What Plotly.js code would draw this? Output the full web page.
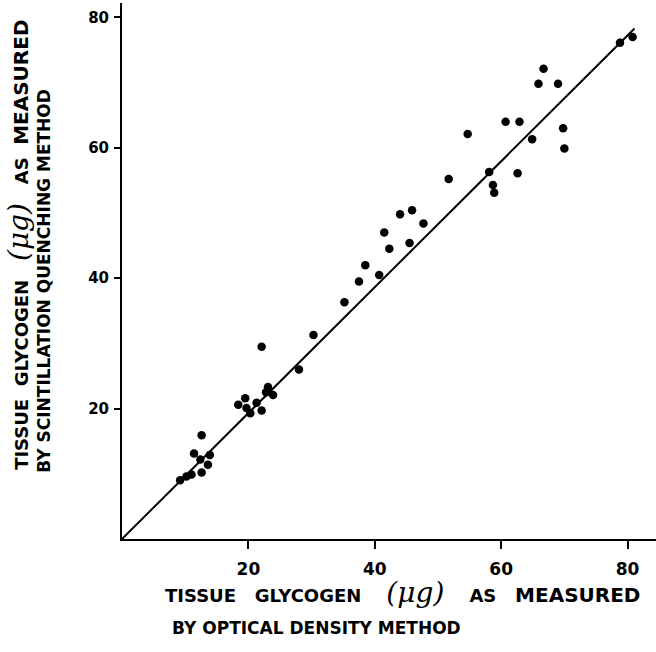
<!DOCTYPE html>
<html>
<head>
<meta charset="utf-8">
<script src="https://cdn.plot.ly/plotly-3.0.1.min.js"></script>
<style>html,body{margin:0;padding:0;background:#fff;}#chart{width:656px;height:652px;}</style>
</head>
<body>
<div id="chart"></div>
<script>
// Tissue glycogen (µg): optical density method (x) vs scintillation quenching method (y)
const opticalDensity = [9.2, 10.2, 11.0, 12.6, 13.6, 12.4, 11.4, 13.9, 12.6,
  18.4, 19.5, 19.7, 20.3, 21.3, 22.1, 23.1, 23.9, 22.8, 22.1, 28.0,
  30.3, 35.2, 37.5, 38.5, 40.7, 41.5, 42.3, 44.0, 45.9, 45.5, 47.7,
  51.7, 54.7, 58.1, 58.7, 58.9, 62.6,
  60.7, 62.9, 64.9, 65.9, 66.7, 69.0, 69.8, 70.0, 78.8, 80.8];
const scintillation = [9.0, 9.6, 9.9, 10.2, 11.4, 12.2, 13.1, 12.9, 15.9,
  20.6, 21.6, 20.1, 19.3, 20.9, 19.7, 23.3, 22.1, 22.5, 29.5, 26.0,
  31.3, 36.3, 39.5, 42.0, 40.5, 47.0, 44.5, 49.8, 50.4, 45.4, 48.4,
  55.2, 62.1, 56.3, 54.3, 53.1, 56.1,
  64.0, 64.0, 61.3, 69.8, 72.1, 69.8, 63.0, 59.9, 76.1, 77.0];
const fitLineX = [0, 81.1];
const fitLineY = [0, 78.3];
const tickValues = [20, 40, 60, 80];
const tickLabels = ['20', '40', '60', '80'];

const traces = [
  {x: fitLineX, y: fitLineY, mode: 'lines', type: 'scatter',
   line: {color: '#000', width: 2}, hoverinfo: 'skip', cliponaxis: false},
  {x: opticalDensity, y: scintillation, mode: 'markers', type: 'scatter',
   marker: {color: '#000', size: 8.5}, cliponaxis: false}
];

const tf = {family: 'DejaVu Sans', size: 15, color: '#000', weight: 'bold'};
const title1Font = {family: 'DejaVu Sans', size: 18, color: '#000', weight: 'bold'};
const title2Font = {family: 'DejaVu Sans', size: 17, color: '#000', weight: 'bold'};
const mu = "<span style='font-family:DejaVu Serif;font-style:italic;font-size:28px;font-weight:normal'>(μg)</span>";
const xLine1 = 'TISSUE   GLYCOGEN    ' + mu + "    AS   <span style='font-size:20px'>MEASURED</span>";
const yLine1 = 'TISSUE  GLYCOGEN   ' + mu + "   AS  <span style='font-size:20px'>MEASURED</span>";

const layout = {
  width: 656, height: 652,
  margin: {l: 122, r: 0, t: 3, b: 112.5},
  paper_bgcolor: '#fff', plot_bgcolor: '#fff',
  showlegend: false,
  xaxis: {range: [0, 84.5], showgrid: false, zeroline: false, showline: true,
    linecolor: '#000', linewidth: 2, ticks: 'outside', ticklen: 8, tickwidth: 2,
    tickcolor: '#000', tickvals: tickValues, ticktext: tickLabels,
    tickfont: {family: 'DejaVu Sans', size: 17, color: '#000', weight: 'bold'},
    ticklabelstandoff: 6},
  yaxis: {range: [0, 82.2], showgrid: false, zeroline: false, showline: true,
    linecolor: '#000', linewidth: 2, ticks: 'outside', ticklen: 6, tickwidth: 2,
    tickcolor: '#000', tickvals: tickValues, ticktext: tickLabels, tickfont: tf,
    ticklabelstandoff: 2},
  annotations: [
    {xref: 'paper', yref: 'paper', x: 0.077, y: -0.100, xanchor: 'left', yanchor: 'middle',
     showarrow: false, font: title1Font, text: xLine1},
    {xref: 'paper', yref: 'paper', x: 0.09, y: -0.166, xanchor: 'left', yanchor: 'middle',
     showarrow: false, font: title2Font,
     text: 'BY OPTICAL DENSITY METHOD'},
    {xref: 'paper', yref: 'paper', x: -0.194, y: 0.126, xanchor: 'center', yanchor: 'bottom',
     textangle: -90, showarrow: false, font: title1Font, text: yLine1},
    {xref: 'paper', yref: 'paper', x: -0.146, y: 0.12, xanchor: 'center', yanchor: 'bottom',
     textangle: -90, showarrow: false, font: title2Font,
     text: 'BY SCINTILLATION QUENCHING METHOD'}
  ]
};

Plotly.newPlot('chart', traces, layout, {displayModeBar: false, staticPlot: true});
</script>
</body>
</html>
